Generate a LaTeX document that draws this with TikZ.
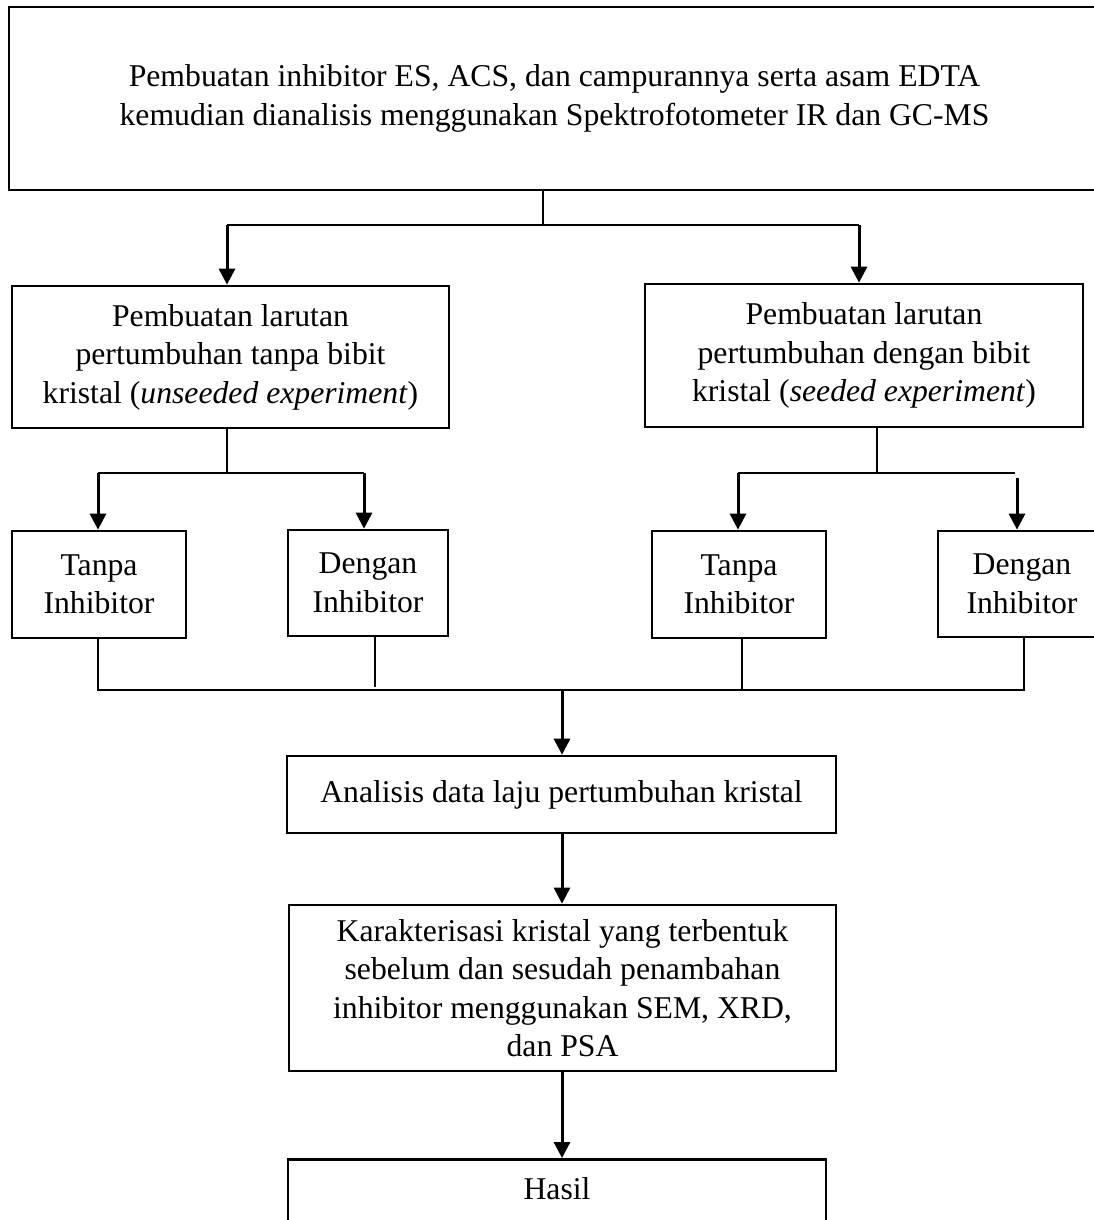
\documentclass[tikz,border=0pt]{standalone}
\usepackage{fontspec}
\setmainfont{Liberation Serif}
\usetikzlibrary{arrows.meta}
\begin{document}
\begin{tikzpicture}[x=1pt,y=-1pt,
  box/.style={draw, line width=2.7pt, align=center, inner sep=0pt, font=\fontsize{31.7}{38.5}\selectfont},
  frame/.style={draw, line width=2.7pt, inner sep=0pt},
  lbl/.style={align=center, inner sep=0pt, font=\fontsize{31.7}{38.5}\selectfont},
  thinline/.style={line width=1.5pt},
  arr/.style={line width=3pt, -{Triangle[width=16pt,length=16pt]}},
]
\clip (0,0) rectangle (1094,1220);
\fill[white] (0,0) rectangle (1094,1220);

\node[box, minimum width=1091pt, minimum height=183pt] (top) at (554.5,98.5)
  {Pembuatan inhibitor ES, ACS, dan campurannya serta asam EDTA\\kemudian dianalisis menggunakan Spektrofotometer IR dan GC-MS};

\node[box, minimum width=437pt, minimum height=142pt] (L1) at (230.5,357)
  {Pembuatan larutan\\pertumbuhan tanpa bibit\\kristal (\textit{unseeded experiment})};
\node[box, minimum width=438pt, minimum height=143pt] (R1) at (864,355.5)
  {Pembuatan larutan\\pertumbuhan dengan bibit\\kristal (\textit{seeded experiment})};

\node[box, minimum width=174pt, minimum height=107pt] (LT) at (99,584.5) {Tanpa\\Inhibitor};
\node[box, minimum width=160pt, minimum height=106pt] (LD) at (368,583) {Dengan\\Inhibitor};
\node[box, minimum width=174pt, minimum height=107pt] (RT) at (739,584.5) {Tanpa\\Inhibitor};
\node[box, minimum width=168pt, minimum height=106pt] (RD) at (1022,584) {Dengan\\Inhibitor};

\node[box, minimum width=549pt, minimum height=77pt] (AN) at (561.5,794.5) {Analisis data laju pertumbuhan kristal};
\node[box, minimum width=547pt, minimum height=166pt] (KA) at (562.5,988)
  {Karakterisasi kristal yang terbentuk\\sebelum dan sesudah penambahan\\inhibitor menggunakan SEM, XRD,\\dan PSA};
\node[frame, anchor=north, minimum width=538pt, minimum height=120pt] (HA) at (557,1158) {};
\node[lbl] (hasil) at (557,1189) {Hasil};

% top split
\coordinate (t1) at (543,225);
\coordinate (tl) at (227,225);
\coordinate (tr) at (859,225);
\draw[thinline] (top.south -| t1) -- (t1);
\draw[thinline] (tl) -- (tr);
\draw[arr] (tl) -- (tl |- L1.north);
\draw[arr] (tr) -- (tr |- R1.north);

% left split
\coordinate (l1) at (227,473);
\coordinate (lta) at (98,473);
\coordinate (lda) at (364,473);
\draw[thinline] (L1.south -| l1) -- (l1);
\draw[thinline] (lta) -- (lda);
\draw[arr] (lta) -- (lta |- LT.north);
\draw[arr] (lda) -- (lda |- LD.north);

% right split
\coordinate (r1) at (877,473);
\coordinate (rta) at (738,473);
\coordinate (rda) at (1015,473);
\coordinate (rdb) at (1017,478);
\draw[thinline] (R1.south -| r1) -- (r1);
\draw[thinline] (rta) -- (rda);
\draw[arr] (rta) -- (rta |- RT.north);
\draw[arr] (rdb) -- (rdb |- RD.north);

% collector
\coordinate (b1) at (98,690);
\coordinate (b2) at (375,687);
\coordinate (b3) at (742,690);
\coordinate (b4) at (1024,690);
\coordinate (bm) at (562,690);
\draw[thinline] (LT.south -| b1) -- (b1) -- (b4) -- (b4 |- RD.south);
\draw[thinline] (b2 |- LD.south) -- (b2);
\draw[thinline] (b3 |- RT.south) -- (b3);

% main column
\draw[arr] (bm) -- (bm |- AN.north);
\draw[arr] (AN.south -| bm) -- (bm |- KA.north);
\draw[arr] (KA.south -| bm) -- (bm |- HA.north);
\end{tikzpicture}
\end{document}
